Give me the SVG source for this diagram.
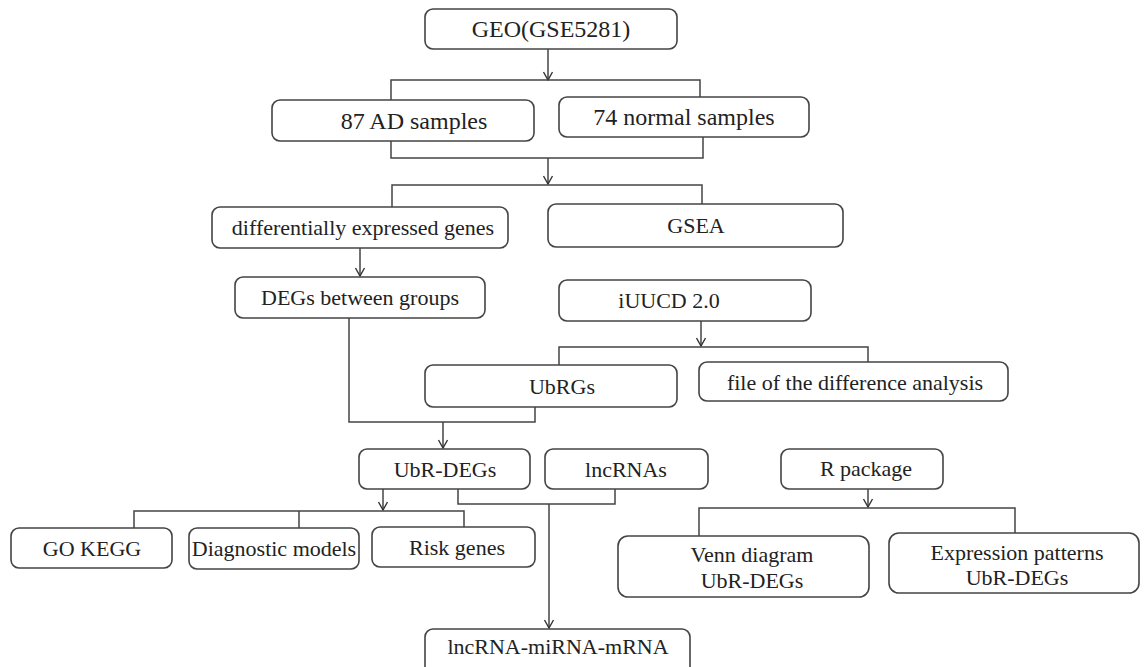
<svg xmlns="http://www.w3.org/2000/svg" width="1144" height="667" viewBox="0 0 1144 667">
<defs>
<marker id="arrd" markerWidth="12" markerHeight="12" refX="6" refY="11" markerUnits="userSpaceOnUse" viewBox="0 0 12 12">
<path d="M1.5,3 L6,11 L10.5,3" fill="none" stroke="#333" stroke-width="1.4"/>
</marker>
</defs>
<style>
.box{fill:#fff;stroke:#444;stroke-width:1.6}
.t{font-family:'Liberation Serif','Times New Roman','DejaVu Serif',serif;font-size:22px;fill:#222;text-anchor:middle;dominant-baseline:central}
.big{font-size:24px}
.c{fill:none;stroke:#444;stroke-width:1.5}
.a{fill:none;stroke:#444;stroke-width:1.5;marker-end:url(#arrd)}
</style>
<rect width="1144" height="667" fill="#fff"/>
<g id="connectors">
<path class="a" d="M548,49 V80"/>
<path class="c" d="M391,100 V80 H700 V97"/>
<path class="c" d="M391,141 V158 H703 V137"/>
<path class="a" d="M548,158 V184"/>
<path class="c" d="M392,207 V185 H702 V204"/>
<path class="a" d="M360,248 V276"/>
<path class="a" d="M701,321 V346"/>
<path class="c" d="M559,365 V347 H868 V362"/>
<path class="c" d="M349,318 V422 H535 V407"/>
<path class="a" d="M443,422 V448"/>
<path class="a" d="M383,489 V510"/>
<path class="c" d="M134,528 V511 H464 V527 M299,511 V528"/>
<path class="c" d="M458,489 V504 H615 V489"/>
<path class="a" d="M549,504 V628"/>
<path class="a" d="M868,489 V507"/>
<path class="c" d="M699,536 V508 H1015 V533"/>
</g>
<g font-family="Liberation Serif, Times New Roman, DejaVu Serif, serif">
<g id="geo"><rect class="box" x="425" y="9" width="252" height="40" rx="8"/><text class="t big" x="551" y="29">GEO(GSE5281)</text></g>
<g id="ad"><rect class="box" x="272" y="100" width="262" height="41" rx="8"/><text class="t big" x="414" y="121">87 AD samples</text></g>
<g id="normal"><rect class="box" x="559" y="97" width="250" height="40" rx="8"/><text class="t big" x="684" y="117">74 normal samples</text></g>
<g id="deg"><rect class="box" x="212" y="207" width="296" height="41" rx="8"/><text class="t" x="363" y="227">differentially expressed genes</text></g>
<g id="gsea"><rect class="box" x="548" y="204" width="295" height="43" rx="8"/><text class="t" x="696" y="225">GSEA</text></g>
<g id="degs"><rect class="box" x="235" y="277" width="250" height="41" rx="8"/><text class="t" x="360" y="297">DEGs between groups</text></g>
<g id="iuucd"><rect class="box" x="559" y="280" width="252" height="41" rx="8"/><text class="t" x="669" y="300">iUUCD 2.0</text></g>
<g id="ubrgs"><rect class="box" x="425" y="365" width="252" height="42" rx="8"/><text class="t" x="562" y="386">UbRGs</text></g>
<g id="file"><rect class="box" x="699" y="362" width="309" height="39" rx="8"/><text class="t" x="855" y="382">file of the difference analysis</text></g>
<g id="ubrdegs"><rect class="box" x="359" y="449" width="171" height="40" rx="8"/><text class="t" x="445" y="469">UbR-DEGs</text></g>
<g id="lnc"><rect class="box" x="545" y="449" width="163" height="40" rx="8"/><text class="t" x="626" y="469">lncRNAs</text></g>
<g id="rpkg"><rect class="box" x="781" y="449" width="162" height="40" rx="8"/><text class="t" x="866" y="468">R package</text></g>
<g id="go"><rect class="box" x="11" y="528" width="161" height="40" rx="8"/><text class="t" x="92" y="548">GO  KEGG</text></g>
<g id="diag"><rect class="box" x="189" y="528" width="170" height="41" rx="8"/><text class="t" x="274" y="548">Diagnostic models</text></g>
<g id="risk"><rect class="box" x="372" y="527" width="163" height="40" rx="8"/><text class="t" x="457" y="547">Risk genes</text></g>
<g id="venn"><rect class="box" x="618" y="536" width="251" height="61" rx="10"/><text class="t" x="752" y="554">Venn diagram</text><text class="t" x="752" y="580">UbR-DEGs</text></g>
<g id="expr"><rect class="box" x="889" y="533" width="250" height="60" rx="10"/><text class="t" x="1017" y="552">Expression patterns</text><text class="t" x="1017" y="577">UbR-DEGs</text></g>
<g id="mrna"><rect class="box" x="425" y="629" width="265" height="50" rx="8"/><text class="t" x="558" y="646">lncRNA-miRNA-mRNA</text></g>
</g>
</svg>
